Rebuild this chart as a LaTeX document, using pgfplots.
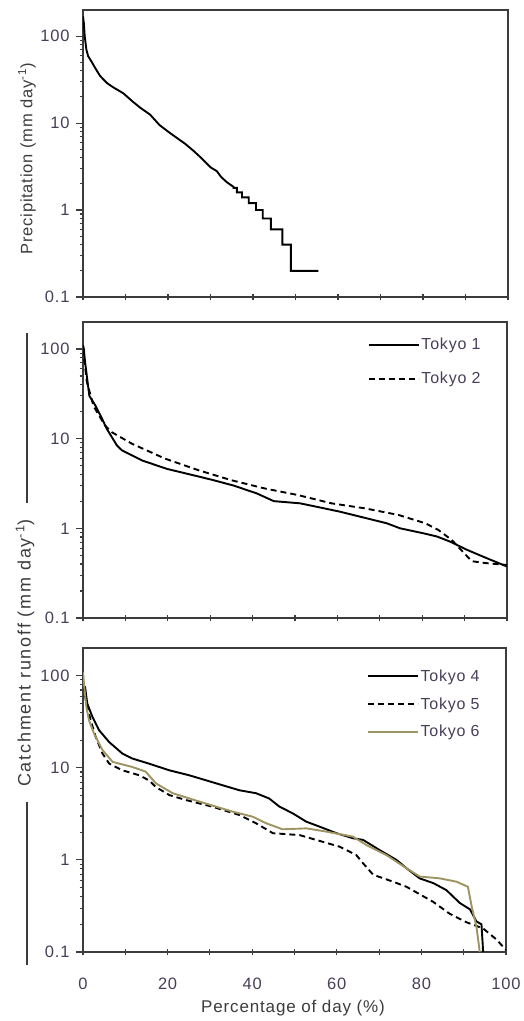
\documentclass[border=0pt]{standalone}
\usepackage{fontspec}
\setmainfont{Liberation Sans}[LetterSpace=5]
\newfontfamily\widefont{Liberation Sans}[LetterSpace=10]
\usepackage{pgfplots}
\pgfplotsset{compat=1.18}
\definecolor{axcol}{RGB}{60,60,60}
\definecolor{tkcol}{RGB}{72,62,88}
\definecolor{olive6}{RGB}{158,148,98}
\pgfplotsset{
  panel/.style={
    scale only axis, anchor=south west,
    xmin=0, xmax=100, ymin=0.1, ymax=200,
    xtick={0,10,...,100},
    ytick={0.1,1,10,100}, yticklabels={0.1,1,10,100},
    minor ytick={0.2,0.3,0.4,0.5,0.6,0.7,0.8,0.9,2,3,4,5,6,7,8,9,20,30,40,50,60,70,80,90},
    tick pos=left, xtick align=center, ytick align=outside,
    major tick length=7pt, minor tick length=3.5pt,
    axis line style={draw=axcol, line width=1.4pt},
    tick style={draw=axcol, line width=1.1pt},
    /pgf/number format/assume math mode=true,
    tick label style={font=\fontsize{16.5}{16.5}\selectfont, text=tkcol},
    yticklabel style={xshift=-3pt},
    xticklabel style={yshift=-19pt},
    legend style={draw=none, fill=none, anchor=north east,
      font=\fontsize{16}{16}\selectfont, text=tkcol},
    legend cell align=left,
    legend image code/.code={\draw[##1] (0pt,0pt) -- (50pt,0pt);},
  },
  s1/.style={black, line width=1.9pt},
  s2/.style={black, line width=1.9pt, dash pattern=on 6pt off 4pt},
  s3/.style={olive6, line width=1.9pt},
}
\begin{document}
\begin{tikzpicture}
\path[use as bounding box] (0pt,0pt) rectangle (524pt,1021pt);

% ---------- top panel: precipitation
\begin{semilogyaxis}[panel, at={(83pt,724pt)}, width=425pt, height=287pt, xticklabels={}]
\addplot[s1] coordinates {
(0,170) (0.2,140) (0.4,100) (0.8,70) (1.2,59) (2,51) (3,42) (4,35) (5.6,29) (7,26)
(9.5,22) (11.8,17.5) (13.5,15) (15.8,12.5) (18,9.5) (20,8) (22,6.8) (24,5.8) (26,4.8)
(28,3.9) (30,3.1) (31.5,2.8) (32.5,2.4) (33.8,2.1) (35.4,1.85)
(35.4,1.8) (36.2,1.8) (36.2,1.6) (37.4,1.6) (37.4,1.4) (39,1.4) (39,1.2) (40.7,1.2)
(40.7,1.0) (42.3,1.0) (42.3,0.8) (44.2,0.8) (44.2,0.6) (46.9,0.6) (46.9,0.4) (48.9,0.4)
(48.9,0.2) (55.4,0.2)
};
\end{semilogyaxis}

% ---------- middle panel
\begin{semilogyaxis}[panel, at={(83pt,403pt)}, width=424pt, height=296pt, xticklabels={},
  legend style={at={(0.95,0.96)}, row sep=17pt}]
\addplot[s1] coordinates {
(0,110) (0.2,100) (0.4,78) (0.9,50) (1.5,30) (2.9,23.5) (4.5,16.7) (5.6,12.9) (8,8.4)
(9.2,7.4) (14,5.7) (19.8,4.6) (27.6,3.75) (30.8,3.44) (35.5,3.0) (41,2.45) (45,2.01)
(51.2,1.9) (55.1,1.74) (60.7,1.53) (67,1.29) (71.6,1.14) (74.8,1.0) (80.3,0.88)
(83.5,0.81) (86.6,0.71) (90.6,0.575) (94.5,0.48) (100,0.375)
};
\addlegendentry{Tokyo 1}
\addplot[s2] coordinates {
(0,100) (0.4,70) (0.9,43) (2.5,23) (5.2,14) (6.8,11.8) (11.5,8.8) (19.3,6.0) (27.2,4.45)
(35,3.44) (42.9,2.78) (50.7,2.35) (58.6,1.9) (66.5,1.67) (74.4,1.41) (80.7,1.14)
(83.8,0.96) (87,0.74) (90.2,0.51) (91.7,0.43) (94.9,0.41) (100,0.39)
};
\addlegendentry{Tokyo 2}
\end{semilogyaxis}

% ---------- bottom panel
\begin{semilogyaxis}[panel, at={(83pt,69pt)}, width=423pt, height=304pt,
  xticklabels={0,,20,,40,,60,,80,,100},
  legend style={at={(0.95,0.942)}, row sep=10.5pt}]
\addplot[s1] coordinates {
(0,80) (0.5,75) (1,50) (2.2,36) (3.8,25.6) (6.2,19) (9.3,14.3) (11.7,12.6) (15.6,11.1)
(20.4,9.4) (25.1,8.3) (31.4,6.8) (37,5.7) (40.9,5.3) (44,4.65) (46.4,3.8) (49.6,3.2)
(52.8,2.6) (55.9,2.3) (59.9,1.95) (63.8,1.72) (66.2,1.65) (70.1,1.28) (74.1,1.0)
(76.5,0.81) (79.6,0.63) (82.8,0.56) (85.9,0.47) (89.1,0.34) (91.5,0.29) (93,0.215)
(94.2,0.2) (94.6,0.1)
};
\addlegendentry{Tokyo 4}
\addplot[s2] coordinates {
(0,80) (0.8,50) (1.8,33) (3,21.7) (4.6,14.3) (6.2,11.1) (9.3,9.4) (13.3,8.3) (15.6,7.3)
(17.2,6.2) (20.4,5.06) (24.3,4.47) (30.6,3.78) (37,3.07) (40.9,2.5) (44.9,1.95)
(51.2,1.86) (55.1,1.65) (60.7,1.39) (64.6,1.13) (66.2,0.92) (68.6,0.69) (73.3,0.58)
(76.5,0.51) (82.8,0.35) (86.7,0.26) (90.7,0.21) (94.6,0.18) (97.8,0.136) (100,0.105)
};
\addlegendentry{Tokyo 5}
\addplot[s3] coordinates {
(0,110) (0.3,75) (0.8,46) (1.4,33) (2.6,23.6) (4.6,15.6) (7,11.6) (11.7,10.2) (14.8,9.1)
(17.2,6.8) (21.2,5.3) (27.5,4.3) (35.4,3.34) (40.1,2.95) (43.3,2.5) (47.2,2.15)
(52.8,2.2) (57.5,2.03) (63.8,1.79) (67,1.45) (71.7,1.13) (76.5,0.81) (79.6,0.66)
(84.4,0.63) (88.3,0.58) (91,0.51) (91.9,0.31) (93,0.19) (93.8,0.1)
};
\addlegendentry{Tokyo 6}
\end{semilogyaxis}

% ---------- labels and decorative rules
\node[rotate=90, font=\fontsize{16.5}{16.5}\selectfont, text=axcol] at (27pt,862pt)
  {Precipitation (mm day\textsuperscript{-1})};
\node[rotate=90, font=\widefont\fontsize{18}{18}\selectfont, text=axcol] at (25pt,368pt)
  {Catchment runoff (mm day\textsuperscript{-1})};
\draw[axcol, line width=1.4pt] (27pt,688pt) -- (27pt,518pt);
\draw[axcol, line width=1.4pt] (27pt,219pt) -- (27pt,56pt);
\node[font=\fontsize{17}{17}\selectfont, text=axcol] at (293pt,13pt) {Percentage of day (\%)};
\end{tikzpicture}
\end{document}
